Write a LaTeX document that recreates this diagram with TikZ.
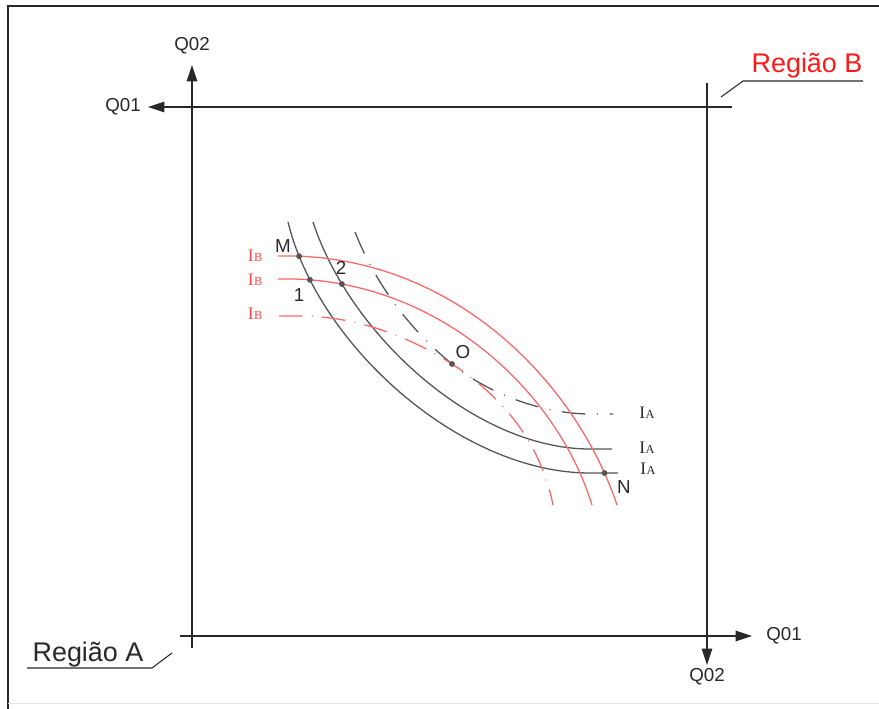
\documentclass[tikz,border=0pt]{standalone}
\usepackage{fontspec}
\setmainfont{Liberation Sans}
\newfontfamily\labelserif{Liberation Serif}
\usetikzlibrary{arrows.meta,intersections}
\definecolor{inkgray}{RGB}{40,40,40}
\definecolor{curvegray}{RGB}{85,85,85}
\definecolor{curvered}{RGB}{250,105,105}
\definecolor{labelred}{RGB}{250,70,70}
\definecolor{regionred}{RGB}{255,25,25}
\newcommand{\isoname}[1]{{\labelserif\fontsize{15}{15}\selectfont I\kern0.3pt{\fontsize{10.5}{10.5}\selectfont #1}}}

\begin{document}
\begin{tikzpicture}[x=0.03cm, y=-0.03cm,
  axis/.style={draw=inkgray, line width=0.9pt},
  axarr/.style={axis, -{Triangle[length=14pt,width=9pt]}},
  iso/.style={draw=curvegray, line width=1.1pt},
  isored/.style={draw=curvered, line width=1.1pt},
  chainline/.style={dash pattern=on 20pt off 8pt on 0.8pt off 8pt},
  chainwide/.style={dash pattern=on 20pt off 10pt on 0.8pt off 10pt},
  lbl/.style={font=\fontsize{16}{18}\selectfont, text=inkgray, inner sep=1pt},
  region/.style={font=\fontsize{23}{25}\selectfont, inner sep=1pt},
  dot/.style={circle, fill=curvegray, inner sep=0pt, minimum size=5pt}]
\useasboundingbox (0,0) rectangle (879,709);
% frame
\draw[inkgray, line width=1.2pt] (8,709) -- (8,6) -- (879,6);
\draw[black!10] (8,703) -- (879,703);

% axes of region A
\draw[axarr] (192,648) -- (192,65) coordinate (tipA2);
\draw[axarr] (180,636) -- (752,636) coordinate (tipA1);
% axes of region B
\draw[axarr] (732,107) -- (148,107) coordinate (tipB1);
\draw[axarr] (707,83) -- (707,665) coordinate (tipB2);
\node[lbl, above=8pt] (qa2) at (tipA2) {Q02};
\node[lbl, right=11pt] (qa1) at (tipA1) {Q01};
\node[lbl, left=5pt] (qb1) at (tipB1) {Q01};
\node[lbl, below=2pt] (qb2) at (tipB2) {Q02};

% region labels
\node[region, text=regionred] (regB) at (807,66) {Região B};
\draw[inkgray, line width=0.9pt] (721,97) -- (743,81) -- (863,81);
\node[region, text=inkgray] (regA) at (88,655) {Região A};
\draw[inkgray, line width=0.9pt] (27,668) -- (152,668) -- (172,653);

% crossing point of the chain lines
\coordinate (O) at (452,364);

% isolines of A
\path[iso, name path=blackA] (288,222) .. controls (318,345) and (460,473) .. (590,473) -- (618,473);
\path[iso, name path=blackB] (313,222) .. controls (350,335) and (475,449) .. (590,449) -- (612,449);
\path[iso, chainwide] (355,232) .. controls (380,295) and (420,338) .. (O)
  .. controls (490,395) and (545,414) .. (590,414) -- (613,414);
% isolines of B
\path[isored, name path=redA] (278,256) .. controls (450,252) and (575,380) .. (617,505);
\path[isored, name path=redB] (278,279) .. controls (430,275) and (555,385) .. (592,505);
\path[isored, chainline] (279,316) -- (300,316) .. controls (360,316) and (415,340) .. (O)
  .. controls (500,395) and (540,440) .. (553,505);

% marked points
\path[name intersections={of=blackA and redA, sort by=blackA, by={M,N}}];
\path[name intersections={of=blackA and redB, sort by=blackA, by={P1}}];
\path[name intersections={of=blackB and redB, sort by=blackB, by={P2}}];
\node[dot] (dotM) at (M) {};
\node[dot] (dotN) at (N) {};
\node[dot] (dot1) at (P1) {};
\node[dot] (dot2) at (P2) {};
\node[dot] (dotO) at (O) {};
\node[lbl] (lblM) at (283,246) {M};
\node[lbl] (lbl1) at (299,295) {1};
\node[lbl] (lbl2) at (341,268) {2};
\node[lbl] (lblO) at (463,352) {O};
\node[lbl] (lblN) at (624,487) {N};

% isoline names
\node[text=inkgray, inner sep=0pt] (iaC) at (647,413) {\isoname{A}};
\node[text=inkgray, inner sep=0pt] (iaB) at (647,448) {\isoname{A}};
\node[text=inkgray, inner sep=0pt] (iaA) at (648,469) {\isoname{A}};
\node[text=labelred, inner sep=0pt] (ibA) at (255,256) {\isoname{B}};
\node[text=labelred, inner sep=0pt] (ibB) at (255,280) {\isoname{B}};
\node[text=labelred, inner sep=0pt] (ibC) at (255,314) {\isoname{B}};
\end{tikzpicture}
\end{document}
